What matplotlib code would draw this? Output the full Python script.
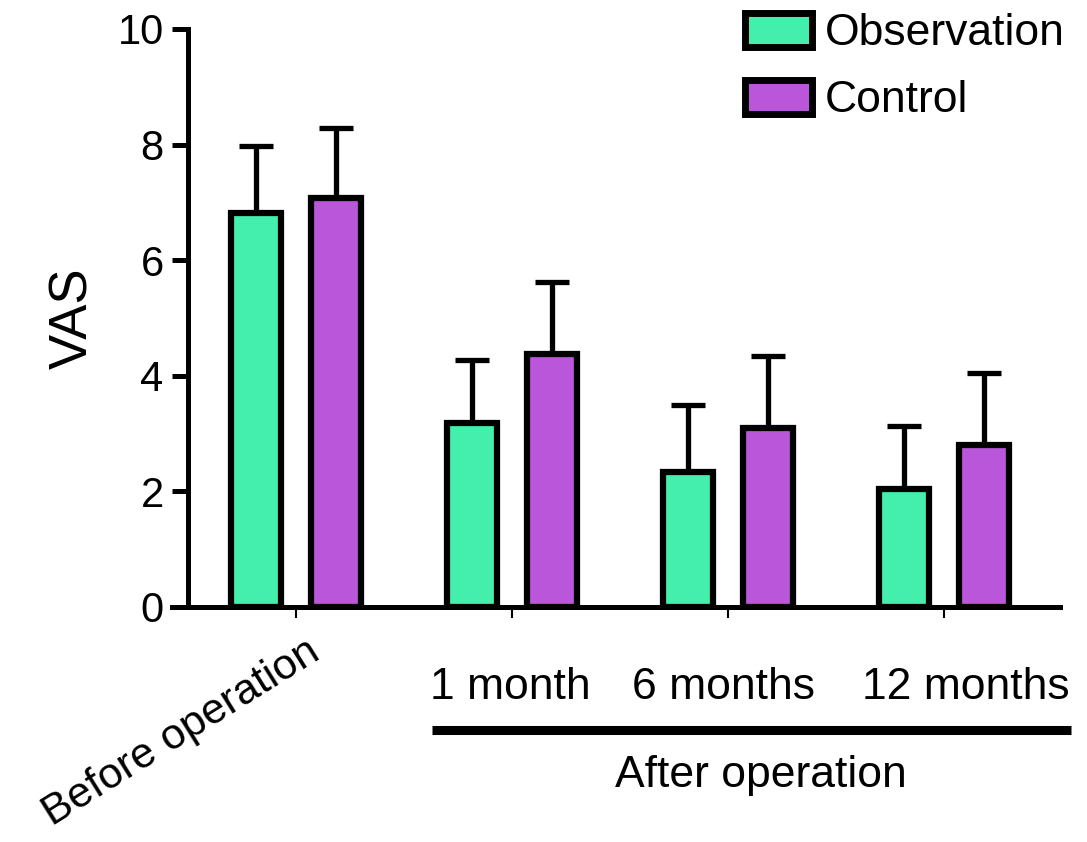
import numpy as np
import matplotlib
matplotlib.use("Agg")
import matplotlib.pyplot as plt
import matplotlib.transforms as mtransforms

plt.rcParams['font.family'] = ['Liberation Sans', 'DejaVu Sans']

# data
groups = ["Before operation", "1 month", "6 months", "12 months"]
obs_mean = [6.82, 3.18, 2.34, 2.05]
obs_sd = [1.16, 1.09, 1.15, 1.09]
ctrl_mean = [7.08, 4.38, 3.10, 2.80]
ctrl_sd = [1.20, 1.24, 1.25, 1.25]

green = '#44EFAD'
purple = '#B956DA'

x = np.arange(len(groups))
off = 0.185
w = 0.232

fig = plt.figure(figsize=(10.87, 8.42), dpi=100)
ax = fig.add_axes([172/1087, 1 - 607/842, (1060-172)/1087, (607-29)/842])

ax.bar(x - off, obs_mean, w, color=green, edgecolor='black', linewidth=4.5, zorder=3, label='Observation')
ax.bar(x + off, ctrl_mean, w, color=purple, edgecolor='black', linewidth=4.5, zorder=3, label='Control')
ax.errorbar(x - off, obs_mean, yerr=[np.zeros(4), obs_sd], fmt='none', ecolor='black',
            elinewidth=3.8, capsize=12, capthick=3.8, zorder=2)
ax.errorbar(x + off, ctrl_mean, yerr=[np.zeros(4), ctrl_sd], fmt='none', ecolor='black',
            elinewidth=3.8, capsize=12, capthick=3.8, zorder=2)

ax.set_xlim(-0.574, 3.537)
ax.set_ylim(0, 10)
ax.spines['top'].set_visible(False)
ax.spines['right'].set_visible(False)
ax.spines['left'].set_position(('data', -0.5))
for s in ('left', 'bottom'):
    ax.spines[s].set_linewidth(3.6)

ax.set_yticks([0, 2, 4, 6, 8, 10])
ax.tick_params(axis='y', length=11.5, width=3.6, labelsize=30, pad=6)
ax.set_xticks(x)
ax.set_xticklabels([])
ax.tick_params(axis='x', length=8, width=1.5, direction='out')
ax.set_ylabel('VAS', fontsize=38, labelpad=14)

trans = mtransforms.blended_transform_factory(ax.transData, ax.transAxes)
ax.text(0.12, -0.088, groups[0], transform=trans, fontsize=31, rotation=32,
        ha='right', va='baseline', rotation_mode='anchor')
label_x = [0.99, 1.977, 3.10]
for xi, name in zip(label_x, groups[1:]):
    ax.text(xi, -0.140, name, transform=trans, fontsize=32, ha='center', va='center')
ax.plot([0.63, 3.59], [-0.213, -0.213], transform=trans, color='black', lw=6.5,
        solid_capstyle='butt', clip_on=False)
ax.text(2.15, -0.291, 'After operation', transform=trans, fontsize=32, ha='center', va='center')

leg = ax.legend(loc='upper left', bbox_to_anchor=(745/1087, 1 - 13/842), bbox_transform=fig.transFigure,
                frameon=False, fontsize=32, handlelength=1.5, handleheight=0.79,
                handletextpad=0.3, labelspacing=0.58, borderpad=0, borderaxespad=0)
for p in leg.get_patches():
    p.set_linewidth(5)

fig.savefig('out.png', dpi=100)
